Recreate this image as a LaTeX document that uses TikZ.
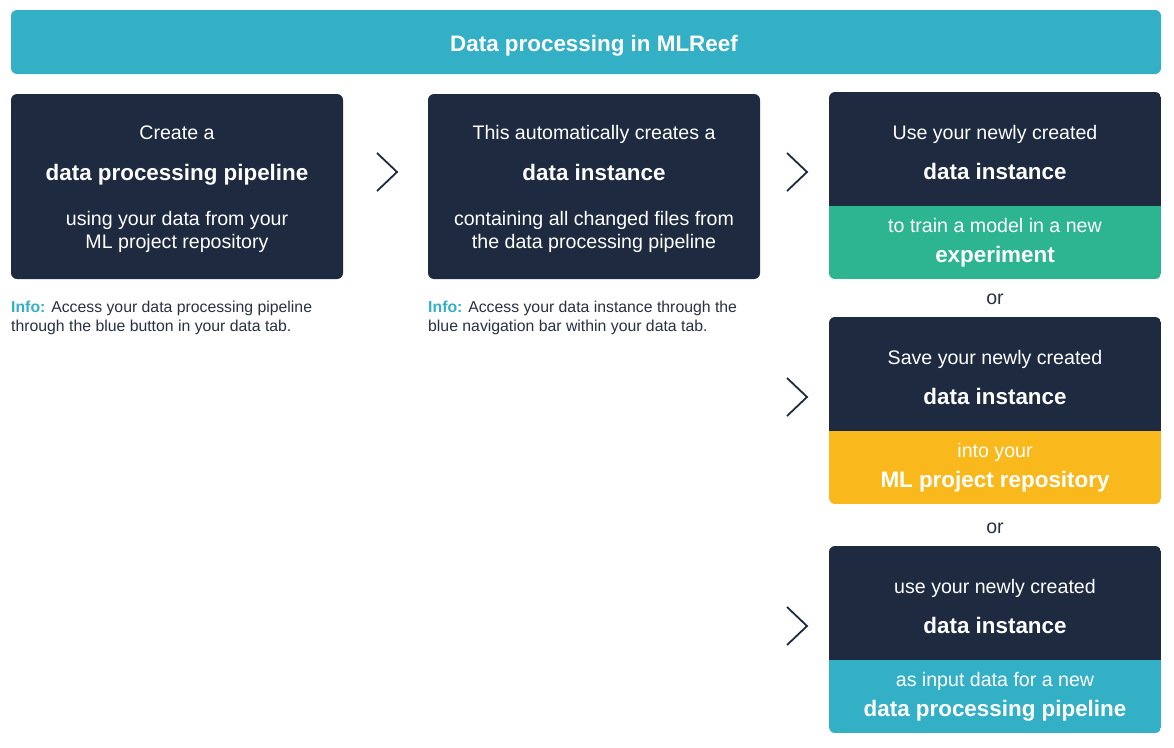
\documentclass[tikz,border=0pt]{standalone}
\usepackage{fontspec}
\setmainfont{Liberation Sans}
\definecolor{navy}{RGB}{30,42,64}
\definecolor{tealc}{RGB}{51,175,198}
\definecolor{greenc}{RGB}{45,180,145}
\definecolor{yellowc}{RGB}{249,185,28}
\definecolor{infotext}{RGB}{40,48,66}
\tikzset{
  txt/.style={inner sep=0pt},
  reg/.style={txt, text=white, font=\fontsize{19.6}{23}\selectfont, anchor=base},
  big/.style={txt, text=white, font=\fontsize{22.4}{26}\selectfont\bfseries, anchor=base},
  info/.style={txt, text=infotext, font=\fontsize{15.8}{20}\selectfont, anchor=base west},
  orlabel/.style={txt, text=infotext, font=\fontsize{19.6}{23}\selectfont, anchor=base},
  chev/.style={draw=navy, line width=1.8pt, line join=miter},
}
\newcommand{\infohead}{\textcolor{tealc}{\bfseries Info:}}
\newcommand{\splitbox}[4]{%
  \begin{scope}
    \clip[rounded corners=6pt] (829,#1) rectangle (1161,#3);
    \fill[#4] (829,#2) rectangle (1161,#3);
    \fill[navy] (829,#1) rectangle (1161,#2);
  \end{scope}}
\begin{document}
\begin{tikzpicture}[x=1pt,y=-1pt]
\useasboundingbox (0,0) rectangle (1174,747);
% title
\fill[tealc, rounded corners=6pt] (11,10) rectangle (1161,74);
\node[big] (title) at (594,51) {Data processing in MLReef};
% box 1
\fill[navy, rounded corners=6pt] (11,94) rectangle (343,279);
\node[reg] (b1a) at (177,139) {Create a};
\node[big] (b1b) at (177,180) {data processing pipeline};
\node[reg] (b1c) at (177,225) {using your data from your};
\node[reg] (b1d) at (177,248) {ML project repository};
% box 2
\fill[navy, rounded corners=6pt] (428,94) rectangle (760,279);
\node[reg] (b2a) at (594,139) {This automatically creates a};
\node[big] (b2b) at (594,180) {data instance};
\node[reg] (b2c) at (594,225) {containing all changed files from};
\node[reg] (b2d) at (594,248) {the data processing pipeline};
% info texts
\node[info] (i1a) at (11,312) {\infohead{} Access your data processing pipeline};
\node[info] (i1b) at (11,331) {through the blue button in your data tab.};
\node[info] (i2a) at (428,312) {\infohead{} Access your data instance through the};
\node[info] (i2b) at (428,331) {blue navigation bar within your data tab.};
% right box A
\splitbox{92}{206}{279}{greenc}
\node[reg] (ra1) at (995,139) {Use your newly created};
\node[big] (ra2) at (995,179) {data instance};
\node[reg] (ra3) at (995,232) {to train a model in a new};
\node[big] (ra4) at (995,262) {experiment};
\node[orlabel] (or1) at (995,304) {or};
% right box B
\splitbox{317}{431}{504}{yellowc}
\node[reg] (rb1) at (995,364) {Save your newly created};
\node[big] (rb2) at (995,404) {data instance};
\node[reg] (rb3) at (995,457) {into your};
\node[big] (rb4) at (995,487) {ML project repository};
\node[orlabel] (or2) at (995,533) {or};
% right box C
\splitbox{546}{660}{733}{tealc}
\node[reg] (rc1) at (995,593) {use your newly created};
\node[big] (rc2) at (995,633) {data instance};
\node[reg] (rc3) at (995,686) {as input data for a new};
\node[big] (rc4) at (995,716) {data processing pipeline};
% chevrons
\draw[chev] (377,153) -- (397,172) -- (377,191);
\draw[chev] (787,153) -- (807,172) -- (787,191);
\draw[chev] (787,378) -- (807,397) -- (787,416);
\draw[chev] (787,607) -- (807,626) -- (787,645);
\end{tikzpicture}
\end{document}
